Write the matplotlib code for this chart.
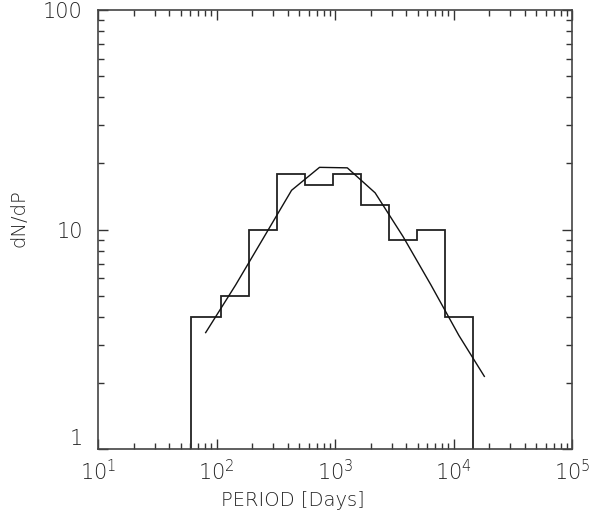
import matplotlib
matplotlib.use("Agg")
import matplotlib.pyplot as plt
from matplotlib.ticker import LogLocator, FixedLocator, NullFormatter

plt.rcParams["font.family"] = ["DejaVu Sans"]
plt.rcParams["mathtext.default"] = "regular"

# Histogram of orbital periods (bin edges in days) and counts per bin
bin_edges = [61.3, 110, 189, 326, 562, 968, 1656, 2857, 4920, 8434, 14630]
counts = [4, 5, 10, 18, 16, 18, 13, 9, 10, 4]

# Smooth model curve evaluated at bin centres
model_period = [81, 145, 250, 430, 740, 1270, 2180, 3750, 6450, 11100, 18200]
model_dndp = [3.4, 5.6, 9.2, 15.1, 19.2, 19.1, 14.7, 9.3, 5.6, 3.3, 2.15]

x_ticks = [10, 100, 1000, 10000, 100000]
x_tick_labels = ["$10^{1}$", "$10^{2}$", "$10^{3}$", "$10^{4}$", "$10^{5}$"]
y_ticks = [1, 10, 100]
y_tick_labels = ["1", "10", "100"]

fig = plt.figure(figsize=(5.94, 5.16), dpi=100)
ax = fig.add_axes([0.165, 0.129, 0.798, 0.852])

ax.stairs(counts, bin_edges, baseline=1, color="#222222", linewidth=1.3)
ax.plot(model_period, model_dndp, color="#111111", linewidth=1.0)

ax.set_xscale("log")
ax.set_yscale("log")
ax.set_xlim(10, 1e5)
ax.set_ylim(1, 100)

ax.xaxis.set_major_locator(FixedLocator(x_ticks))
ax.set_xticklabels(x_tick_labels)
ax.yaxis.set_major_locator(FixedLocator(y_ticks))
ax.set_yticklabels(y_tick_labels)
ax.xaxis.set_minor_locator(LogLocator(base=10, subs=range(2, 10)))
ax.yaxis.set_minor_locator(LogLocator(base=10, subs=range(2, 10)))
ax.xaxis.set_minor_formatter(NullFormatter())
ax.yaxis.set_minor_formatter(NullFormatter())

ax.tick_params(which="both", direction="in", top=True, right=True,
               color="#333333", width=1.0)
ax.tick_params(which="major", length=7, labelsize=15,
               labelcolor="#222222")
ax.tick_params(axis="x", which="major", pad=7)
ax.tick_params(axis="y", which="major", pad=11)
ax.tick_params(which="minor", length=4)
for lab in ax.get_xticklabels() + ax.get_yticklabels():
    lab.set_fontweight("light")
# the lowest y label sits just above the bottom axis
ax.get_yticklabels()[0].set_va("bottom")

for sp in ax.spines.values():
    sp.set_linewidth(1.2)
    sp.set_color("#444444")

ax.set_xlabel("PERIOD [Days]", fontsize=14, color="#222222",
              fontweight="light", labelpad=4)
ax.xaxis.set_label_coords(0.411, -0.095)
ax.set_ylabel("dN/dP", fontsize=14, color="#222222", fontweight="light")
ax.yaxis.set_label_coords(-0.147, 0.526)

fig.savefig("out.png", dpi=100)
